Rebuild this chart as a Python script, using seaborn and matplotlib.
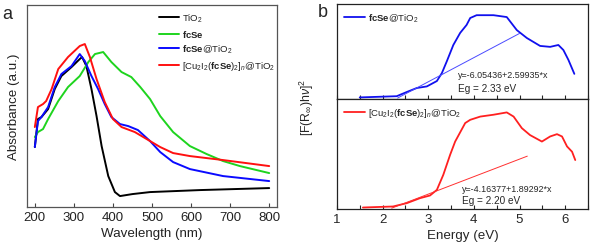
import numpy as np
import pandas as pd
import matplotlib
matplotlib.use("Agg")
import matplotlib.pyplot as plt
import seaborn as sns
from matplotlib.ticker import MultipleLocator

sns.set_theme(style="ticks")
plt.rcParams['font.family'] = ['Liberation Sans', 'DejaVu Sans']
plt.rcParams['mathtext.fontset'] = 'custom'
plt.rcParams['mathtext.rm'] = 'Liberation Sans'
plt.rcParams['mathtext.it'] = 'Liberation Sans:italic'
plt.rcParams['mathtext.bf'] = 'Liberation Sans:bold'

# ---------------- Panel a data (absorbance, a.u.) ----------------
wl_tio2 = [200, 208, 217, 234, 251, 268, 294, 315, 321, 332, 345, 358, 371, 388, 405, 418, 450, 495, 623, 800]
abs_tio2 = [0.60, 0.88, 0.90, 0.98, 1.18, 1.31, 1.40, 1.48, 1.50, 1.41, 1.18, 0.91, 0.61, 0.31, 0.15, 0.11, 0.13, 0.15, 0.17, 0.19]

wl_fcse = [200, 208, 221, 234, 260, 285, 315, 337, 354, 375, 396, 422, 447, 470, 495, 521, 554, 597, 640, 682, 725, 800]
abs_fcse = [0.70, 0.75, 0.78, 0.88, 1.06, 1.20, 1.31, 1.45, 1.53, 1.55, 1.45, 1.35, 1.30, 1.20, 1.08, 0.91, 0.75, 0.61, 0.53, 0.46, 0.41, 0.34]

wl_fcse_tio2 = [200, 208, 217, 234, 251, 268, 294, 315, 328, 345, 362, 379, 396, 418, 439, 464, 495, 521, 554, 597, 682, 800]
abs_fcse_tio2 = [0.60, 0.86, 0.90, 1.00, 1.20, 1.33, 1.41, 1.53, 1.46, 1.31, 1.18, 1.03, 0.90, 0.83, 0.81, 0.77, 0.66, 0.55, 0.45, 0.38, 0.31, 0.26]

wl_cu = [200, 208, 221, 229, 243, 260, 285, 315, 328, 341, 358, 379, 400, 422, 456, 495, 521, 554, 597, 682, 800]
abs_cu = [0.80, 1.00, 1.03, 1.06, 1.18, 1.38, 1.50, 1.61, 1.63, 1.50, 1.28, 1.05, 0.88, 0.80, 0.75, 0.66, 0.60, 0.54, 0.51, 0.47, 0.41]

labels_a = ["TiO$_2$", r"$\mathbf{fcSe}$", r"$\mathbf{fcSe}$@TiO$_2$",
            r"[Cu$_2$I$_2$($\mathbf{fcSe}$)$_2$]$_n$@TiO$_2$"]
wl_ticks = [200, 300, 400, 500, 600, 700, 800]

# ---------------- Panel b data (Tauc) ----------------
e_fcse_tio2 = [1.50, 2.31, 2.53, 2.75, 2.97, 3.19, 3.30, 3.41, 3.55, 3.70, 3.84, 3.92, 4.06, 4.43, 4.72, 4.94, 5.16, 5.45, 5.67, 5.85, 5.96, 6.07, 6.20]
k_fcse_tio2 = [0.07, 0.20, 0.65, 1.08, 1.25, 1.83, 2.69, 3.98, 5.70, 7.00, 7.85, 8.60, 8.90, 8.90, 8.70, 7.30, 6.45, 5.60, 5.50, 5.70, 5.16, 4.10, 2.60]

e_cu = [1.57, 2.23, 2.53, 2.82, 3.04, 3.19, 3.33, 3.48, 3.59, 3.70, 3.81, 3.92, 4.14, 4.43, 4.72, 4.87, 5.05, 5.23, 5.49, 5.67, 5.82, 5.93, 6.04, 6.15, 6.22]
k_cu = [0.07, 0.18, 0.54, 1.08, 1.37, 1.98, 3.60, 5.77, 7.20, 8.20, 9.20, 9.55, 9.90, 10.10, 10.35, 9.90, 8.65, 7.90, 7.20, 7.75, 8.00, 7.75, 6.67, 6.10, 5.20]

fit1_a, fit1_b = -6.05436, 2.59935
fit1_range = [2.33, 5.0]
fit2_a, fit2_b = -4.16377, 1.89292
fit2_range = [2.20, 5.17]
eg_labels = ["Eg = 2.33 eV", "Eg = 2.20 eV"]
fit_labels = ["y=-6.05436+2.59935*x", "y=-4.16377+1.89292*x"]
e_ticks = [1, 2, 3, 4, 5, 6]

fig = plt.figure(figsize=(5.91, 2.51), dpi=100)
ax_a = fig.add_axes([0.0457, 0.171, 0.4230, 0.805])
ax_b1 = fig.add_axes([0.570, 0.6016, 0.425, 0.3784])
ax_b2 = fig.add_axes([0.570, 0.163, 0.425, 0.4386], sharex=ax_b1)

# ---- panel a ----
colors_a = ["black", "#1ed41e", "#0a0aff", "#ff1010"]
series = [(wl_tio2, abs_tio2), (wl_fcse, abs_fcse), (wl_fcse_tio2, abs_fcse_tio2), (wl_cu, abs_cu)]
for (x, y), c, lab in zip(series, colors_a, labels_a):
    sns.lineplot(x=x, y=y, color=c, lw=1.4, ax=ax_a, label=lab, sort=False, estimator=None)
ax_a.set_xlim(180, 820)
ax_a.set_ylim(0, 2.02)
ax_a.set_xticks(wl_ticks)
ax_a.set_yticks([])
ax_a.tick_params(axis='x', direction='in', length=3, width=0.8, labelsize=9.5, pad=3,
                 colors='#444444', labelcolor='#222222')
ax_a.set_xlabel("Wavelength (nm)", fontsize=9.6, labelpad=3, color='#222222')
ax_a.set_ylabel("Absorbance (a.u.)", fontsize=9.6, labelpad=5, color='#222222')
for s in ax_a.spines.values():
    s.set_color('#555555')
    s.set_linewidth(0.9)
leg = ax_a.legend(loc='upper left', bbox_to_anchor=(0.50, 1.0), frameon=False, fontsize=6.8,
                  handlelength=2.2, handletextpad=0.3, labelspacing=0.4, borderaxespad=0.3)
for t in leg.get_texts():
    t.set_color('#222222')
fig.text(0.004, 0.975, "a", fontsize=13, va='top', ha='left')

# ---- panel b ----
sns.lineplot(x=e_fcse_tio2, y=k_fcse_tio2, color="#1010ee", lw=1.3, ax=ax_b1,
             label=r"$\mathbf{fcSe}$@TiO$_2$", sort=False, estimator=None)
xf = np.array(fit1_range)
sns.lineplot(x=xf, y=fit1_a + fit1_b * xf, color="#4a4aff", lw=0.7, ax=ax_b1, sort=False, estimator=None)
ax_b1.set_ylim(-0.1, 10.1)

sns.lineplot(x=e_cu, y=k_cu, color="#ff2020", lw=1.3, ax=ax_b2,
             label=r"[Cu$_2$I$_2$($\mathbf{fcSe}$)$_2$]$_n$@TiO$_2$", sort=False, estimator=None)
xf2 = np.array(fit2_range)
sns.lineplot(x=xf2, y=fit2_a + fit2_b * xf2, color="#ff3030", lw=0.7, ax=ax_b2, sort=False, estimator=None)
ax_b2.set_ylim(-0.1, 11.8)

for ax in (ax_b1, ax_b2):
    ax.set_xlim(1, 6.5)
    ax.set_yticks([])
    ax.xaxis.set_major_locator(MultipleLocator(1))
    ax.xaxis.set_minor_locator(MultipleLocator(0.5))
    ax.tick_params(axis='x', which='both', direction='in', length=3, width=0.8, labelsize=9.5, pad=3,
                   bottom=True, top=False)
    for s in ax.spines.values():
        s.set_color('#222222')
        s.set_linewidth(0.9)
    ax.set_ylabel("")
    lg = ax.legend(loc='upper left', frameon=False, fontsize=6.8, handlelength=2.2,
                   handletextpad=0.3, borderaxespad=0.35)
ax_b1.tick_params(axis='x', which='both', labelbottom=False)
ax_b1.set_xlabel("")
ax_b2.set_xlabel("Energy (eV)", fontsize=9.6, labelpad=3)

ax_b1.text(0.482, 0.263, fit_labels[0], transform=ax_b1.transAxes, fontsize=6.4, va='center')
ax_b1.text(0.482, 0.116, eg_labels[0], transform=ax_b1.transAxes, fontsize=7.2, va='center')
ax_b2.text(0.498, 0.19, fit_labels[1], transform=ax_b2.transAxes, fontsize=6.4, va='center')
ax_b2.text(0.498, 0.082, eg_labels[1], transform=ax_b2.transAxes, fontsize=7.2, va='center')

fig.text(0.519, 0.574, r"[F(R$_\infty$)h$\nu$]$^2$", rotation=90, fontsize=8.8, va='center', ha='center')
fig.text(0.537, 0.985, "b", fontsize=13, va='top', ha='left')

fig.savefig("out.png", dpi=100)
